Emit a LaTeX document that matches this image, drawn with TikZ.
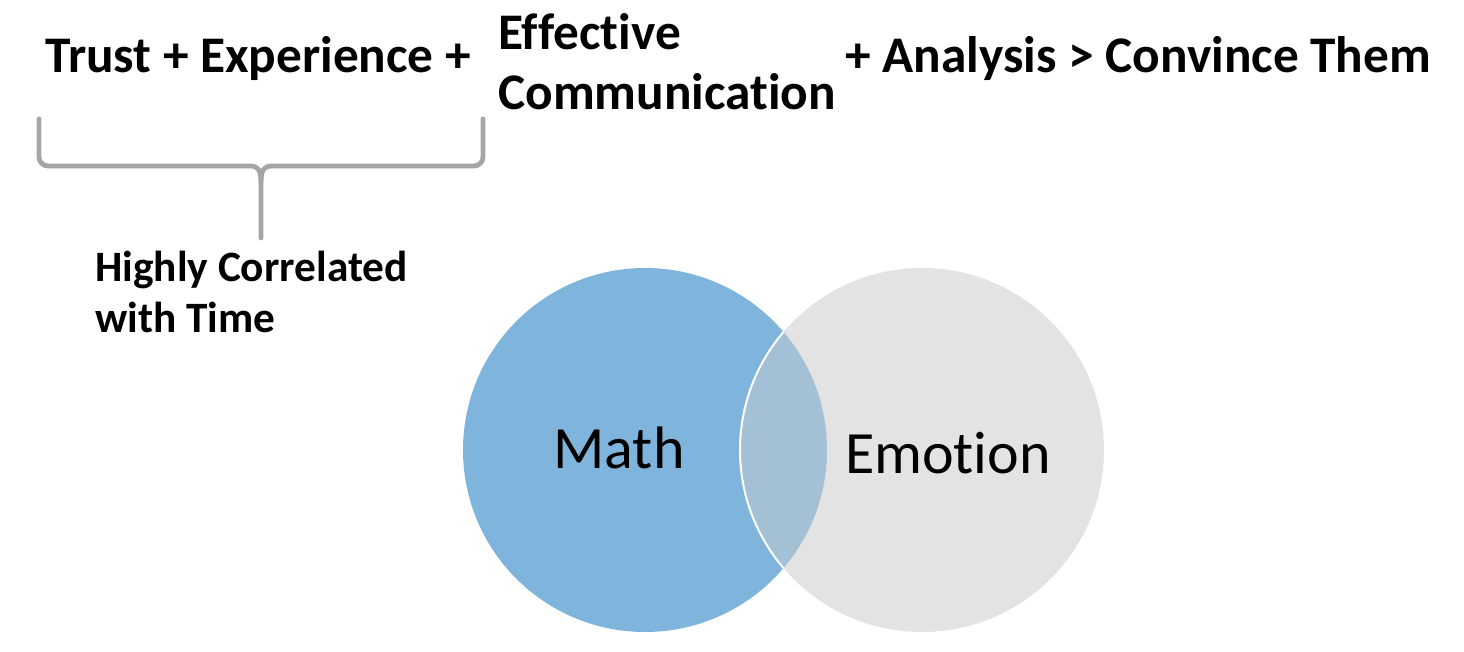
\documentclass[tikz,border=0pt]{standalone}
\usepackage{fontspec}
\setmainfont{Carlito}[Ligatures=NoCommon]
\usepackage{xcolor}
\usepackage{tikz}

\definecolor{mathblue}{RGB}{127,181,221}
\definecolor{emogray}{RGB}{227,227,227}
\definecolor{lensblue}{RGB}{164,192,212}
\definecolor{bracegray}{RGB}{166,166,166}

\tikzset{
  headtext/.style={inner sep=0pt, anchor=base west, font=\bfseries\fontsize{38.5}{45}\selectfont},
  notetext/.style={inner sep=0pt, anchor=base west, align=left, font=\bfseries\fontsize{32.5}{38.3}\selectfont},
  circtext/.style={inner sep=0pt, font=\fontsize{45}{52}\selectfont},
  bracestroke/.style={draw=bracegray, line width=3.6pt, line cap=round}
}

\begin{document}
\begin{tikzpicture}[x=0.75pt,y=0.75pt,yscale=-1,xscale=1]
\useasboundingbox (0,0) rectangle (1464,652);

% equation line
\node[headtext] (trust) at (45,73) {Trust + Experience +};
\node[headtext] (effective) at (498,50) {Effective};
\node[headtext] (communication) at (498,110) {Communication};
\node[headtext] (analysis) at (845,73) {+ Analysis > Convince Them};

% brace
\draw[bracestroke] (39,119) -- (39,157) arc (180:90:9) -- (250,166) .. controls (258,166) and (261,170) .. (261,182) -- (261,238);
\draw[bracestroke] (483,119) -- (483,157) arc (0:90:9) -- (272,166) .. controls (264,166) and (261,170) .. (261,182);

\node[notetext] (correlated) at (95,333) {Highly Correlated\\with Time};

% venn
\fill[mathblue] (645,450) circle (182);
\fill[emogray] (922,450) circle (182);
\begin{scope}
  \clip (645,450) circle (182);
  \fill[lensblue] (922,450) circle (182);
  \draw[white, line width=1.5pt] (922,450) circle (182);
\end{scope}

\node[circtext] (math) at (619,448) {Math};
\node[circtext] (emotion) at (948,453) {Emotion};
\end{tikzpicture}
\end{document}
